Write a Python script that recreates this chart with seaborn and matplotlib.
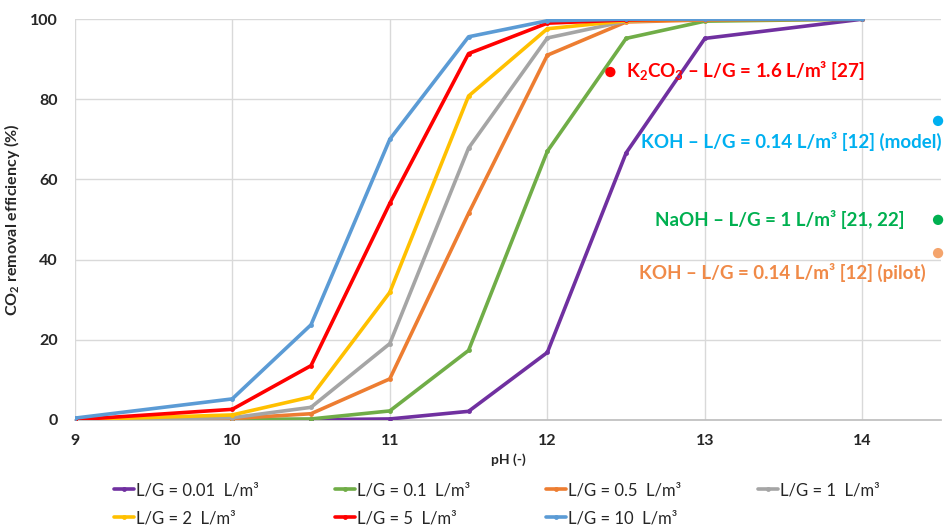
import matplotlib
matplotlib.use("Agg")
import matplotlib.pyplot as plt
import seaborn as sns
import pandas as pd

ph = [9, 10, 10.5, 11, 11.5, 12, 12.5, 13, 14]
lg_001 = [0.0, 0.0, 0.0, 0.2, 2.1, 16.8, 66.6, 95.2, 100]
lg_01 = [0.0, 0.05, 0.2, 2.2, 17.3, 67.0, 95.2, 99.5, 100]
lg_05 = [0.0, 0.3, 1.5, 10.2, 51.5, 91.0, 99.3, 99.8, 100]
lg_1 = [0.0, 0.5, 3.1, 19.0, 67.8, 95.3, 99.5, 100, 100]
lg_2 = [0.0, 1.2, 5.7, 31.8, 80.8, 97.6, 99.6, 100, 100]
lg_5 = [0.0, 2.6, 13.5, 54.0, 91.4, 99.0, 99.8, 100, 100]
lg_10 = [0.4, 5.2, 23.7, 70.0, 95.6, 99.6, 100, 100, 100]

series_labels = ["L/G = 0.01  L/m³", "L/G = 0.1  L/m³", "L/G = 0.5  L/m³",
                 "L/G = 1  L/m³", "L/G = 2  L/m³", "L/G = 5  L/m³", "L/G = 10  L/m³"]
series_values = [lg_001, lg_01, lg_05, lg_1, lg_2, lg_5, lg_10]
series_colors = ["#7030A0", "#70AD47", "#ED7D31", "#A5A5A5", "#FFC000", "#FF0000", "#5B9BD5"]

ref_ph = [12.4, 14.48, 14.48, 14.48]
ref_eff = [86.8, 74.6, 49.9, 41.6]
ref_labels = ["K$_2$CO$_3$ – L/G = 1.6 L/m³ [27]",
              "KOH – L/G = 0.14 L/m³ [12] (model)",
              "NaOH – L/G = 1 L/m³ [21, 22]",
              "KOH – L/G = 0.14 L/m³ [12] (pilot)"]
ref_dot_colors = ["#FF0000", "#00B0F0", "#00B050", "#F4A46C"]
ref_text_colors = ["#FF0000", "#00B0F0", "#00B050", "#F08A48"]

sns.set_theme(style="white")
plt.rcParams['font.family'] = ['Lato', 'DejaVu Sans']
plt.rcParams['mathtext.fontset'] = 'custom'
plt.rcParams['mathtext.rm'] = 'Lato:bold'
plt.rcParams['mathtext.it'] = 'Lato:bold'
plt.rcParams['mathtext.bf'] = 'Lato:bold'

fig = plt.figure(figsize=(9.45, 5.32), dpi=100)
ax = fig.add_axes([0.079, 0.211, 0.917, 0.753])

for lab, vals, col in zip(series_labels, series_values, series_colors):
    df = pd.DataFrame({"pH": ph, "eff": vals})
    sns.lineplot(data=df, x="pH", y="eff", color=col, linewidth=2.6, marker="o",
                 markersize=3.5, markeredgewidth=0, label=lab, ax=ax, zorder=3)

ax.scatter(ref_ph, ref_eff, s=55, c=ref_dot_colors, zorder=5, clip_on=False, linewidths=0)

tp = dict(fontsize=13.5, fontweight="bold", va="center")
ax.text(12.5, 87.2, ref_labels[0], color=ref_text_colors[0], ha="left", **tp)
ax.text(14.5, 69.5, ref_labels[1], color=ref_text_colors[1], ha="right", **tp)
ax.text(14.27, 49.9, ref_labels[2], color=ref_text_colors[2], ha="right", **tp)
ax.text(14.40, 36.8, ref_labels[3], color=ref_text_colors[3], ha="right", **tp)

ax.set_xlim(9, 14.5)
ax.set_ylim(0, 100)
ax.set_xticks([9, 10, 11, 12, 13, 14])
ax.set_yticks([0, 20, 40, 60, 80, 100])
ax.grid(True, color="#D9D9D9", linewidth=1)
ax.set_axisbelow(True)
for s in ["top", "right", "left"]:
    ax.spines[s].set_visible(False)
ax.spines["bottom"].set_color("#BFBFBF")
ax.tick_params(axis="x", labelsize=11.5, length=0, pad=10)
ax.tick_params(axis="y", labelsize=11.5, length=0, pad=12)
for t in ax.get_xticklabels() + ax.get_yticklabels():
    t.set_fontweight("bold")
ax.set_xlabel("pH (-)", fontsize=10, fontweight="bold", labelpad=4)
ax.set_ylabel("CO$_2$ removal efficiency (%)", fontsize=11.5, fontweight="bold", labelpad=6)

handles, labels = ax.get_legend_handles_labels()
order = [0, 4, 1, 5, 2, 6, 3]
ax.legend([handles[i] for i in order], [labels[i] for i in order],
          loc="upper left", bbox_to_anchor=(0.028, -0.118), ncol=4, frameon=False,
          fontsize=12, handlelength=1.2, handletextpad=0.1, columnspacing=4.6,
          labelspacing=0.72)
for t in ax.get_legend().get_texts():
    t.set_fontweight("normal")

fig.savefig("out.png", dpi=100)
